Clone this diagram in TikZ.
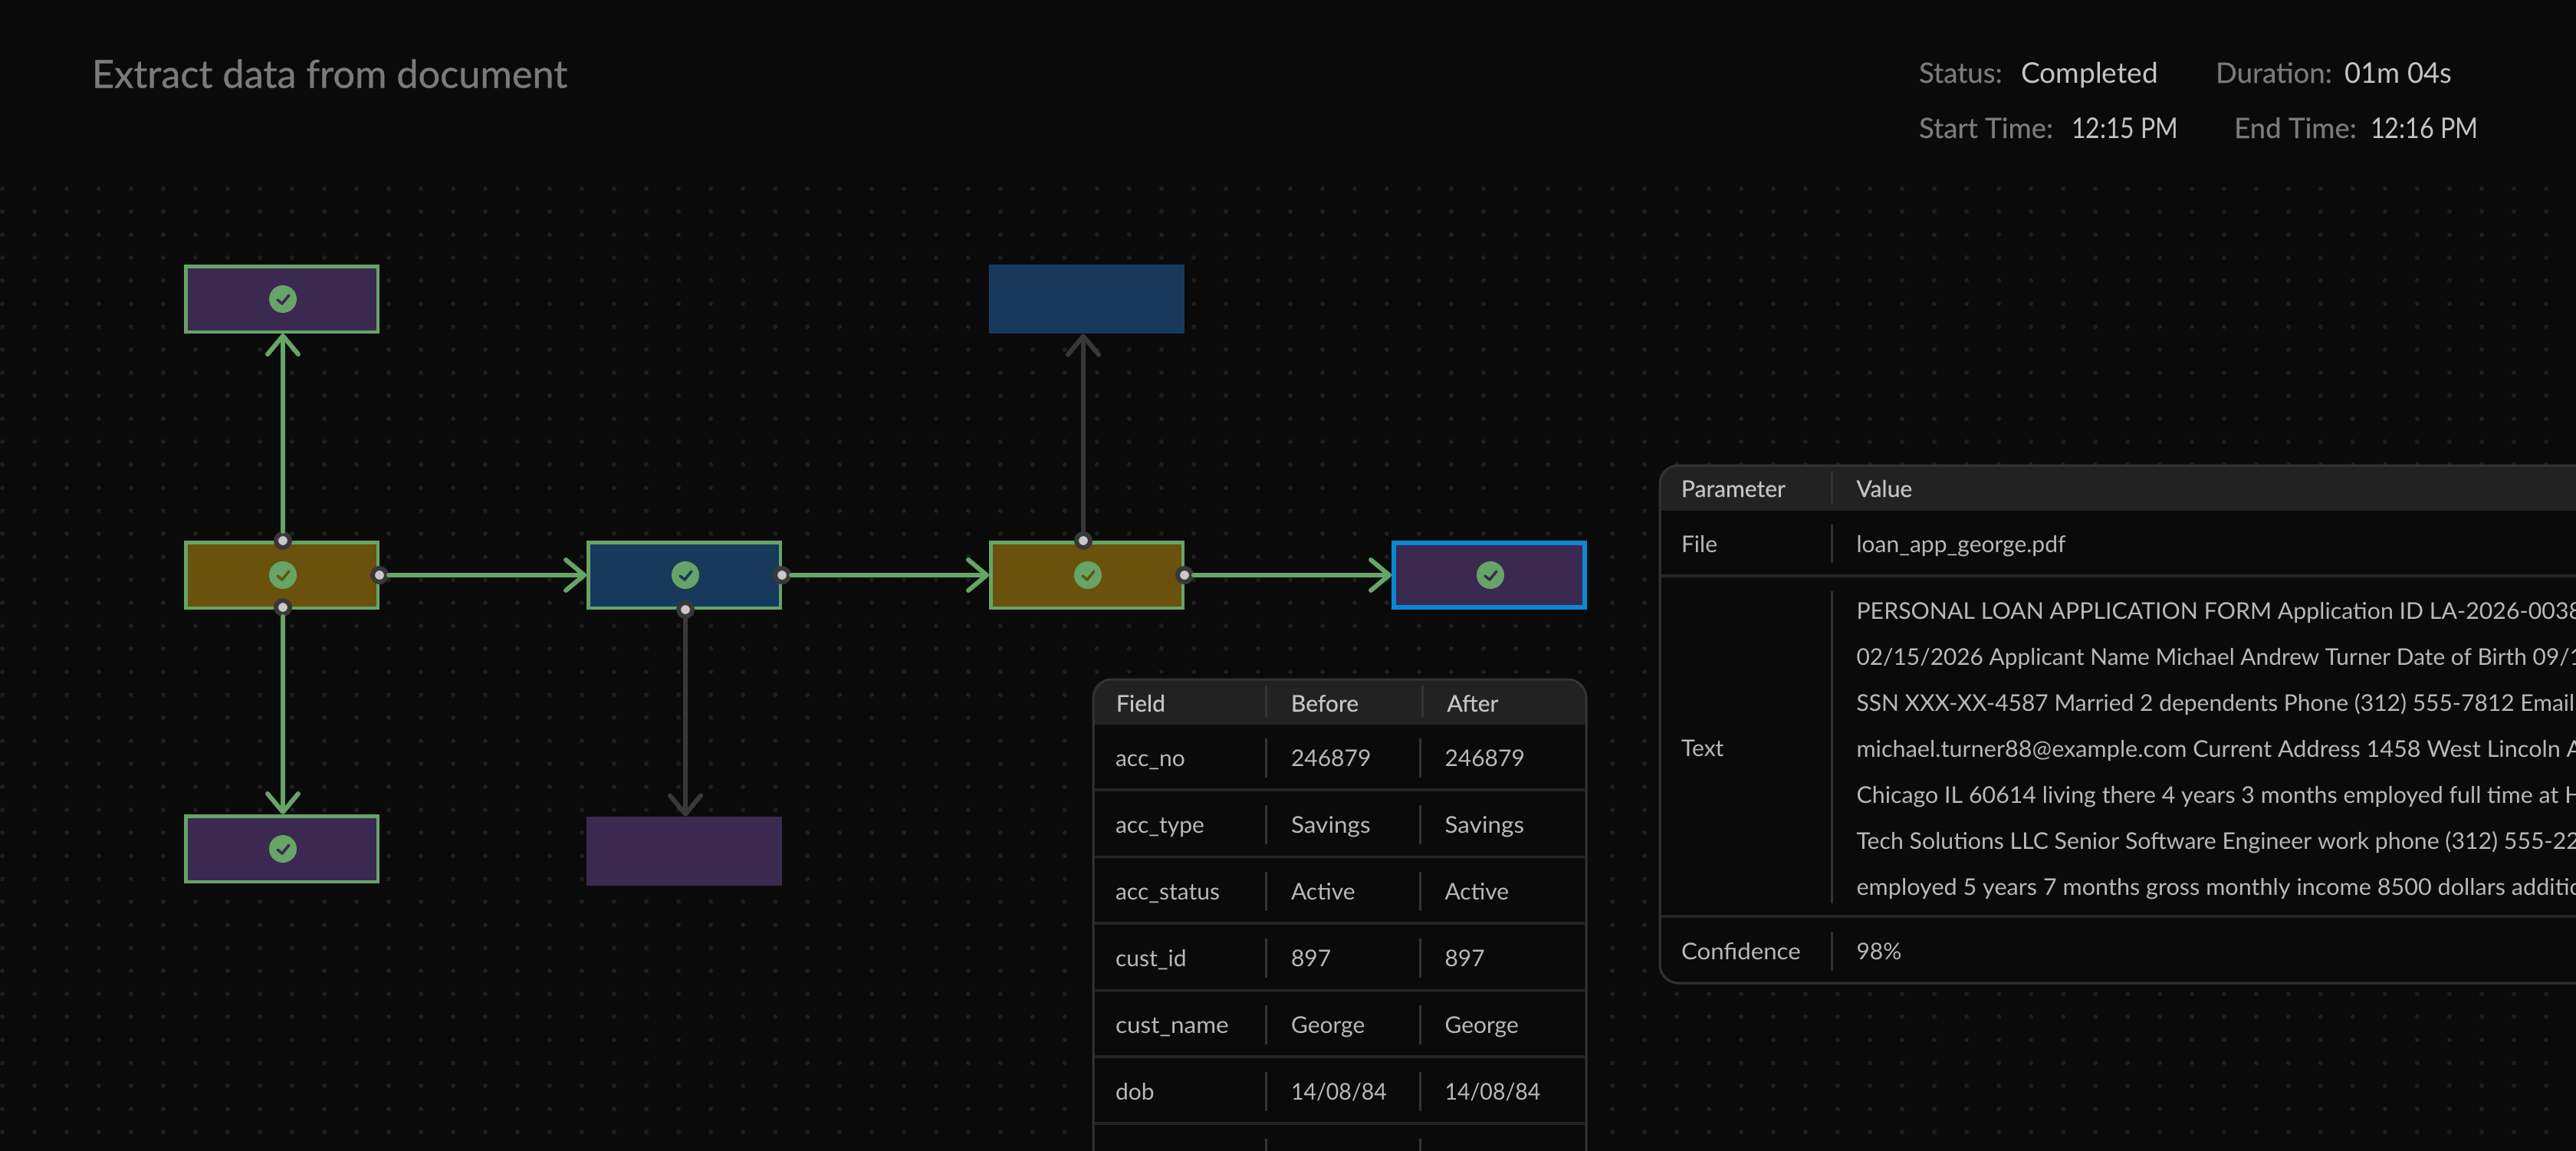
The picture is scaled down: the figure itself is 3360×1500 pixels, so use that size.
\documentclass[tikz,border=0pt]{standalone}
\usepackage{fontspec}
\setmainfont{Lato}
\newfontfamily\medf[FakeBold=0.35]{Lato}
\newfontfamily\ttlf[FakeBold=0.6]{Lato}
\newcommand{\hs}[2]{\scalebox{#1}[1]{#2}}
\usetikzlibrary{arrows.meta}
\definecolor{bgc}{HTML}{0A0A0A}
\definecolor{dotc}{HTML}{1F1F1F}
\definecolor{purp}{HTML}{3B2951}
\definecolor{brwn}{HTML}{6A520C}
\definecolor{blu}{HTML}{173A5C}
\definecolor{okg}{HTML}{66A467}
\definecolor{sel}{HTML}{0A88D4}
\definecolor{gry}{HTML}{383838}
\definecolor{pin}{HTML}{C8C8C8}
\definecolor{lab}{HTML}{7A7A7A}
\definecolor{val}{HTML}{C4C4C4}
\definecolor{cell}{HTML}{B8B8B8}
\definecolor{head}{HTML}{222222}
\definecolor{bord}{HTML}{333333}
\definecolor{rowl}{HTML}{252525}
\tikzset{
  x=0.5pt,y=-0.5pt,
  wf/.style={rectangle,inner sep=0pt,minimum width=125.25pt,minimum height=42.75pt,line width=2.25pt,draw=okg},
  plain/.style={rectangle,inner sep=0pt,minimum width=127.5pt,minimum height=45pt},
  selbox/.style={rectangle,inner sep=0pt,minimum width=124.5pt,minimum height=42pt,line width=3pt,draw=sel},
  port/.style={circle,inner sep=0pt,minimum size=9pt,line width=3pt,draw=gry,fill=pin},
  edge/.style={line width=3pt,line cap=round,line join=round,-{Straight Barb[length=12pt,width=20pt,round]}},
  okedge/.style={edge,draw=okg},
  gredge/.style={edge,draw=gry},
  txt/.style={anchor=base west,inner sep=0pt,outer sep=0pt},
  ttl/.style={txt,text=lab,font=\ttlf\fontsize{25.2}{28}\selectfont},
  mlab/.style={txt,text=lab,font=\medf\fontsize{18.3}{21}\selectfont},
  mval/.style={txt,text=val,font=\fontsize{18.6}{21}\selectfont},
  thd/.style={txt,text=val,font=\medf\fontsize{15}{18}\selectfont},
  tcell/.style={txt,text=cell,font=\fontsize{15}{18}\selectfont},
  sepl/.style={draw=bord,line width=1.5pt},
  rowline/.style={draw=rowl,line width=1.75pt},
  tframe/.style={draw=bord,line width=1.5pt,rounded corners=12pt},
  okmark/.pic={
    \fill[okg] (0,0) circle[radius=18];
    \draw[#1,line width=1.75pt,line cap=round,line join=round] (-7,1) -- (-1,6) -- (8,-5);
  }
}
\begin{document}
\begin{tikzpicture}
\useasboundingbox (0,0) rectangle (3360,1500);
\fill[bgc] (-10,-10) rectangle (3370,1510);
\clip (-2,-2) rectangle (3362,1502);
% dot grid
\foreach \i in {0,...,79}{\foreach \j in {0,...,41}{
  \fill[dotc] ({3+42*\i},{246+30*\j}) circle[radius=3];
}}
% boxes
\node[wf,fill=purp] (b1) at (367.5,390) {};
\node[wf,fill=brwn] (b2) at (367.5,750) {};
\node[wf,fill=purp] (b3) at (367.5,1107) {};
\node[wf,fill=blu] (b4) at (892.5,750) {};
\node[plain,fill=purp] (b5) at (892.5,1110) {};
\node[plain,fill=blu] (b6) at (1417.5,390) {};
\node[wf,fill=brwn] (b7) at (1417.5,750) {};
\node[selbox,fill=purp] (b8) at (1942.5,750) {};
\pic at (369,390) {okmark=purp};
\pic at (369,750) {okmark=brwn};
\pic at (369,1107) {okmark=purp};
\pic at (894,750) {okmark=blu};
\pic at (1419,750) {okmark=brwn};
\pic at (1944,750) {okmark=purp};
% ports
\node[port] (p1) at (369,705) {};
\node[port] (p2) at (369,792) {};
\node[port] (p3) at (495,750) {};
\node[port] (p4) at (1020,750) {};
\node[port] (p5) at (894,795) {};
\node[port] (p6) at (1413,705) {};
\node[port] (p7) at (1545,750) {};
% edges
\draw[okedge] (p1.north) -- (p1.north |- b1.south);
\draw[okedge] (p2.south) -- (p2.south |- b3.north);
\draw[okedge] (p3.east) -- (b4.west);
\draw[okedge] (p4.east) -- (b7.west);
\draw[okedge] (p7.east) -- (b8.west);
\draw[gredge] (p5.south) -- (p5.south |- b5.north);
\draw[gredge] (p6.north) -- (p6.north |- b6.south);
% header
\node[ttl] (title) at (120,114.5) {Extract data from document};
\node[mlab] (sl) at (2503,108) {Status:};
\node[mval] (sv) at (2636,108) {Completed};
\node[mlab] (dl) at (2890,108) {Duration:};
\node[mval] (dv) at (3058.5,108) {\hs{0.98}{01m 04s}};
\node[mlab] (tl) at (2503,180) {Start Time:};
\node[mval] (tv) at (2702,180) {\hs{0.86}{12:15 PM}};
\node[mlab] (el) at (2914,180) {End Time:};
\node[mval] (ev) at (3092,180) {\hs{0.87}{12:16 PM}};
% table 1
\fill[bgc,rounded corners=12pt] (1426,886) rectangle (2069,1640);
\begin{scope}
  \clip[rounded corners=12pt] (1426,886) rectangle (2069,1640);
  \fill[head] (1426,886) rectangle (2069,945);
\end{scope}
\draw[tframe] (1426,886) rectangle (2069,1640);
\foreach \yy in {1030,1117.5,1204,1291.5,1378,1465}{
  \draw[rowline] (1428,\yy) -- (2067,\yy);
}
\draw[sepl] (1651.5,894) -- (1651.5,935.5);
\draw[sepl] (1855,894) -- (1855,935.5);
\foreach \yy in {963,1050,1137,1224,1311,1398,1485}{
  \draw[sepl] (1651.5,\yy) -- (1651.5,\yy+50.5);
  \draw[sepl] (1852,\yy) -- (1852,\yy+50.5);
}
\node[thd] (h1) at (1456,928) {Field};
\node[thd] (h2) at (1684,928) {Before};
\node[thd] (h3) at (1887.5,928) {After};
\foreach \nm/\bb/\aa/\yy/\id in {acc\_no/246879/246879/999/a,acc\_type/\hs{1.05}{Savings}/\hs{1.05}{Savings}/1086/b,acc\_status/Active/Active/1173/c,cust\_id/897/897/1260/d,\hs{1.05}{cust\_name}/George/George/1347/e,dob/\hs{0.95}{14\slash 08\slash 84}/\hs{0.95}{14\slash 08\slash 84}/1434/f}{
  \node[tcell] (r\id1) at (1455,\yy) {\nm};
  \node[tcell] (r\id2) at (1684,\yy) {\bb};
  \node[tcell] (r\id3) at (1884.5,\yy) {\aa};
}
% table 2
\fill[bgc,rounded corners=12pt] (2165,607) rectangle (3420,1282);
\begin{scope}
  \clip[rounded corners=12pt] (2165,607) rectangle (3420,1282);
  \fill[head] (2165,607) rectangle (3420,666);
\end{scope}
\draw[tframe] (2165,607) rectangle (3420,1282);
\draw[rowline] (2167,751) -- (3362,751);
\draw[rowline] (2167,1195) -- (3362,1195);
\draw[sepl] (2389,615) -- (2389,657);
\draw[sepl] (2389,684) -- (2389,734);
\draw[sepl] (2389,771) -- (2389,1178);
\draw[sepl] (2389,1215) -- (2389,1266);
\node[thd] (q1) at (2193,648) {Parameter};
\node[thd] (q2) at (2421.5,648) {Value};
\node[tcell] (q3) at (2193,720) {File};
\node[tcell] (q4) at (2421.5,720) {loan\_app\_george.pdf};
\node[tcell] (q5) at (2193,986) {Text};
\node[tcell] (q6) at (2193,1251) {\hs{1.04}{Confidence}};
\node[tcell] (q7) at (2421.5,1251) {98\%};
\node[tcell] (l1) at (2421.5,807) {\hs{1.01}{PERSONAL LOAN APPLICATION FORM Application ID LA-2026-0038}};
\node[tcell] (l2) at (2421.5,867) {\hs{0.995}{02/15/2026 Applicant Name Michael Andrew Turner Date of Birth 09/1}};
\node[tcell] (l3) at (2421.5,927) {SSN XXX-XX-4587 Married 2 dependents Phone (312) 555-7812 Email};
\node[tcell] (l4) at (2421.5,987) {\hs{1.02}{michael.turner88@example.com Current Address 1458 West Lincoln A}};
\node[tcell] (l5) at (2421.5,1047) {\hs{1.012}{Chicago IL 60614 living there 4 years 3 months employed full time at H}};
\node[tcell] (l6) at (2421.5,1107) {\hs{1.008}{Tech Solutions LLC Senior Software Engineer work phone (312) 555-22}};
\node[tcell] (l7) at (2421.5,1167) {\hs{1.02}{employed 5 years 7 months gross monthly income 8500 dollars additio}};
\end{tikzpicture}
\end{document}
